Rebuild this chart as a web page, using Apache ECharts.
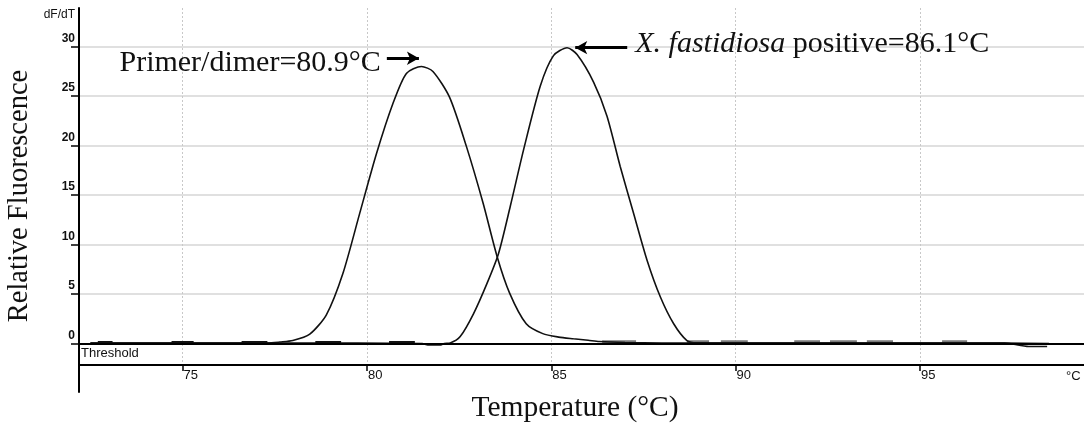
<!DOCTYPE html>
<html><head><meta charset="utf-8">
<script src="https://cdn.jsdelivr.net/npm/echarts@6/dist/echarts.min.js"></script>
<style>html,body{margin:0;padding:0;background:#fff}#c{width:1084px;height:427px}</style>
</head><body><div id="c"></div>
<script>
// ---- data ----
const primerTemps  = [72.5, 73.5, 74.5, 75.5, 76.5, 77.3, 77.64, 77.99, 78.45, 78.90, 79.35, 79.80, 80.26, 80.71, 81.07, 81.48, 81.79, 82.24, 82.70, 83.15, 83.53, 83.87, 84.32, 84.77, 85.2, 85.6, 86.0, 86.3, 87.0, 88.0, 90.0, 92.0, 94.0, 96.0, 97.3, 98.5];
const primerValues = [0.05, 0.05, 0.05, 0.05, 0.05, 0.05, 0.15, 0.3, 0.95, 2.9, 7.1, 13.1, 19.2, 24.3, 27.3, 28.0, 27.5, 24.9, 19.9, 14.2, 8.8, 5.1, 2.0, 1.0, 0.65, 0.48, 0.33, 0.2, 0.1, 0.06, 0.05, 0.05, 0.05, 0.05, 0.05, 0.0];
const xfTemps  = [72.5, 75.0, 78.0, 81.5, 81.65, 81.98, 82.1, 82.26, 82.53, 82.89, 83.26, 83.57, 83.89, 84.25, 84.70, 85.06, 85.43, 85.70, 86.15, 86.51, 86.87, 87.23, 87.60, 87.96, 88.32, 88.68, 88.95, 90.0, 92.0, 94.0, 96.0, 97.3, 97.95, 98.45];
const xfValues = [0.05, 0.05, 0.05, 0.0, -0.15, -0.15, 0.0, 0.05, 0.7, 3.0, 6.1, 9.1, 13.9, 19.6, 26.0, 29.1, 29.9, 29.2, 26.4, 23.0, 17.9, 13.2, 8.4, 4.7, 2.0, 0.3, 0.07, 0.05, 0.05, 0.05, 0.05, 0.05, -0.3, -0.3];
const grayNoiseStarts = [86.38, 88.68, 89.60, 91.59, 92.56, 93.56, 95.60];
const grayNoiseEnds   = [87.30, 89.28, 90.33, 92.29, 93.29, 94.27, 96.28];
const grayNoiseValue  = 0.18;
const darkNoiseStarts = [72.7, 74.7, 76.6, 78.6, 80.6];
const darkNoiseEnds   = [73.1, 75.3, 77.3, 79.3, 81.3];
const darkNoiseValue  = 0.1;
const xTickLabels = [75, 80, 85, 90, 95];
const yTickLabels = [0, 5, 10, 15, 20, 25, 30];
const thresholdValue = 0;
const primerArrow = [[80.54, 28.83], [81.41, 28.83]];
const xfArrow     = [[87.06, 29.9], [85.65, 29.9]];
const primerText = 'Primer/dimer=80.9°C';
const xfTextItalic = 'X. fastidiosa';
const xfTextRest = ' positive=86.1°C';
const xAxisTitle = 'Temperature (°C)';
const yAxisTitle = 'Relative Fluorescence';
const yUnit = 'dF/dT';
const xUnit = '°C';
// --------------------------------------

const pairs = (xs, ys) => xs.map((x, i) => [x, ys[i]]);
function segs(starts, ends, v) {
  const out = [];
  starts.forEach((s, i) => { out.push([s, v], [ends[i], v], [ends[i] + 0.01, null]); });
  return out;
}
const serif = '"Liberation Serif", "Times New Roman", serif';
const sans = '"Liberation Sans", Arial, sans-serif';

const chart = echarts.init(document.getElementById('c'), null, {renderer: 'canvas'});
chart.setOption({
  animation: false,
  backgroundColor: '#fff',
  grid: [
    {left: 79, right: 0, top: 8, bottom: 62},
    {left: 79, right: 0, top: 365, bottom: 35}
  ],
  xAxis: [{
    type: 'value', gridIndex: 0, min: 72.19, max: 99.45, position: 'bottom',
    axisLine: {onZero: false, lineStyle: {color: '#000', width: 2}},
    axisTick: {customValues: xTickLabels, length: 6, lineStyle: {color: '#000', width: 1.5}},
    axisLabel: {customValues: xTickLabels, margin: 4, align: 'left', padding: [0, 0, 0, 1],
      fontSize: 13, color: '#111', fontFamily: sans, verticalAlign: 'top'},
    splitLine: {show: true, lineStyle: {color: '#c8c8c8', type: [2, 2], width: 1}},
    name: xUnit, nameLocation: 'end', nameGap: -18,
    nameTextStyle: {fontSize: 13, color: '#111', fontFamily: sans, verticalAlign: 'top', align: 'left', padding: [5, 0, 0, 0]}
  }, {
    type: 'value', gridIndex: 1, min: 0, max: 1, show: false
  }],
  yAxis: [{
    type: 'value', gridIndex: 0, min: -2.17, max: 33.91,
    axisLine: {show: true, onZero: false, lineStyle: {color: '#000', width: 2}},
    axisTick: {show: true, customValues: yTickLabels, length: 8, lineStyle: {color: '#000', width: 1.5}},
    axisLabel: {customValues: yTickLabels, margin: 4, verticalAlign: 'bottom', padding: [0, 0, 2, 0],
      fontSize: 12, fontWeight: 'bold', color: '#111', fontFamily: sans},
    splitLine: {show: true, lineStyle: {color: '#d6d6d6', width: 1.5}},
    name: yUnit, nameLocation: 'end', nameGap: -13,
    nameTextStyle: {fontSize: 12, color: '#111', fontFamily: sans, align: 'right', padding: [0, 4, 0, 0]}
  }, {
    type: 'value', gridIndex: 1, min: 0, max: 1,
    axisLine: {show: true, onZero: false, lineStyle: {color: '#000', width: 2}},
    axisTick: {show: false}, axisLabel: {show: false}, splitLine: {show: false}
  }],
  graphic: [
    {type: 'text', x: 20, y: 196, rotation: Math.PI / 2,
      style: {text: yAxisTitle, font: '28.5px ' + serif, fill: '#111', align: 'center', verticalAlign: 'middle'}},
    {type: 'text', x: 575, y: 408,
      style: {text: xAxisTitle, font: '29.5px ' + serif, fill: '#111', align: 'center', verticalAlign: 'middle'}}
  ],
  series: [
    {
      name: 'dark', type: 'line', data: segs(darkNoiseStarts, darkNoiseEnds, darkNoiseValue),
      showSymbol: false, symbol: 'none', lineStyle: {color: '#111', width: 3}, connectNulls: false, z: 3
    },
    {
      name: 'gray', type: 'line', data: segs(grayNoiseStarts, grayNoiseEnds, grayNoiseValue),
      showSymbol: false, symbol: 'none', lineStyle: {color: '#7a7a7a', width: 3}, connectNulls: false, z: 3
    },
    {
      name: 'Primer/dimer', type: 'line', data: pairs(primerTemps, primerValues),
      showSymbol: false, symbol: 'none', smooth: 0.25,
      lineStyle: {color: '#111', width: 1.6}, z: 4,
      markLine: {
        silent: true, symbol: 'none',
        lineStyle: {color: '#000', width: 2, type: 'solid'},
        label: {show: true, position: 'insideStartBottom', formatter: 'Threshold', fontSize: 13,
          color: '#111', fontFamily: sans, distance: [2, 3]},
        data: [{yAxis: thresholdValue}]
      }
    },
    {
      name: 'X. fastidiosa', type: 'line', data: pairs(xfTemps, xfValues),
      showSymbol: false, symbol: 'none', smooth: 0.25,
      lineStyle: {color: '#111', width: 1.6}, z: 4
    },
    {
      name: 'arrows', type: 'line', data: [], z: 5,
      markLine: {
        silent: true, symbol: ['none', 'arrow'], symbolSize: [10, 12],
        lineStyle: {color: '#000', width: 3, type: 'solid'},
        label: {show: false},
        data: [
          [{coord: primerArrow[0]}, {coord: primerArrow[1]}],
          [{coord: xfArrow[0]}, {coord: xfArrow[1]}]
        ]
      },
      markPoint: {
        silent: true, symbol: 'circle', symbolSize: 0,
        itemStyle: {color: 'rgba(0,0,0,0)'},
        data: [
          {coord: primerArrow[0], label: {show: true, position: 'left', distance: 6, offset: [0, 5],
            formatter: primerText, fontSize: 30, color: '#111', fontFamily: serif}},
          {coord: xfArrow[0], label: {show: true, position: 'right', distance: 8, offset: [0, -4],
            formatter: '{it|' + xfTextItalic + '}' + xfTextRest, fontSize: 30, color: '#111', fontFamily: serif,
            rich: {it: {fontStyle: 'italic', fontSize: 30, color: '#111', fontFamily: serif}}}}
        ]
      }
    }
  ]
});
</script></body></html>
